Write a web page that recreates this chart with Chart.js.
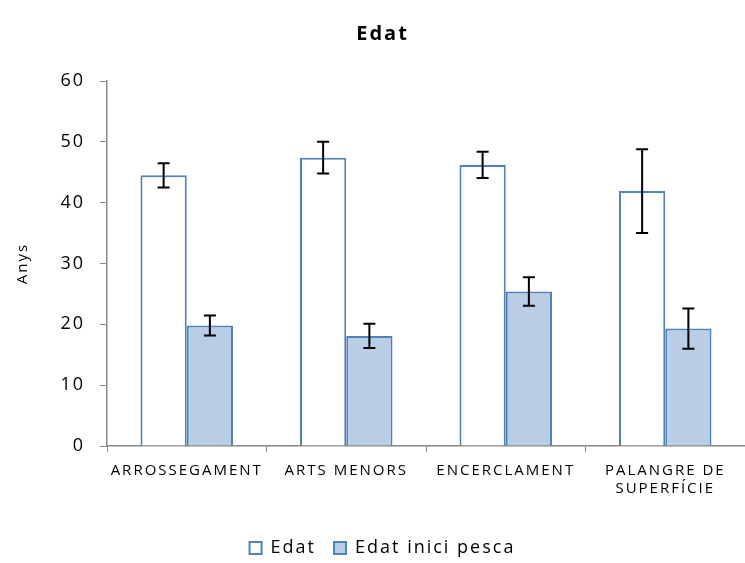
<!DOCTYPE html>
<html>
<head>
<meta charset="utf-8">
<script src="https://cdn.jsdelivr.net/npm/chart.js@4"></script>
<style>
  html, body { margin: 0; padding: 0; background: #fff; }
  #wrap { width: 745px; height: 563px; }
</style>
</head>
<body>
<div id="wrap"><canvas id="edatChart" width="745" height="563"></canvas></div>
<script>
// Dades
const categories = ["ARROSSEGAMENT", "ARTS MENORS", "ENCERCLAMENT", ["PALANGRE DE", "SUPERFÍCIE"]];
const edat = [44.5, 47.4, 46.2, 41.9];
const edatErr = [2.0, 2.6, 2.15, 6.9];
const edatInici = [19.8, 18.1, 25.4, 19.3];
const edatIniciErr = [1.65, 2.0, 2.35, 3.3];
const yTicks = [0, 10, 20, 30, 40, 50, 60];

const FONT = "'Open Sans', 'DejaVu Sans', sans-serif";

// text una mica espaiat, com a l'original
const spacing = {
  id: "spacing",
  beforeUpdate(chart) { chart.ctx.letterSpacing = "2px"; },
  beforeDraw(chart) { chart.ctx.letterSpacing = "2px"; },
};

// barres d'error dibuixades amb l'escala y
const errorBars = {
  id: "errorBars",
  afterDatasetsDraw(chart) {
    const ctx = chart.ctx;
    const y = chart.scales.y;
    const errs = [edatErr, edatIniciErr];
    ctx.save();
    ctx.strokeStyle = "#000";
    ctx.lineWidth = 2;
    chart.data.datasets.forEach((ds, di) => {
      const meta = chart.getDatasetMeta(di);
      meta.data.forEach((bar, i) => {
        const v = ds.data[i];
        const e = errs[di][i];
        const top = y.getPixelForValue(v + e);
        const bot = y.getPixelForValue(v - e);
        const x = bar.x;
        const cap = 6;
        ctx.beginPath();
        ctx.moveTo(x, top); ctx.lineTo(x, bot);
        ctx.moveTo(x - cap, top); ctx.lineTo(x + cap, top);
        ctx.moveTo(x - cap, bot); ctx.lineTo(x + cap, bot);
        ctx.stroke();
      });
    });
    ctx.restore();
  }
};

window.onload = () => {
  const ctx = document.getElementById("edatChart").getContext("2d");
  new Chart(ctx, {
    type: "bar",
    data: {
      labels: categories,
      datasets: [
        {
          label: "Edat",
          data: edat,
          backgroundColor: "#ffffff",
          borderColor: "#4f81bd",
          borderWidth: 2,
        },
        {
          label: "Edat inici pesca",
          data: edatInici,
          backgroundColor: "#b9cde5",
          borderColor: "#4f81bd",
          borderWidth: 2,
        },
      ],
    },
    options: {
      responsive: false,
      animation: false,
      categoryPercentage: 0.58,
      barPercentage: 1.0,
      layout: { padding: { left: 20, right: 0, top: 0, bottom: -4 } },
      plugins: {
        title: {
          display: true,
          text: "Edat",
          color: "#000",
          font: { family: FONT, size: 20, weight: "bold" },
          padding: { top: 22, bottom: 35 },
        },
        legend: {
          position: "bottom",
          labels: {
            color: "#000",
            boxWidth: 12,
            boxHeight: 12,
            padding: 18,
            font: { family: FONT, size: 18 },
          },
        },
        tooltip: { enabled: false },
      },
      scales: {
        x: {
          afterFit: (axis) => { axis.height = 75; },
          grid: {
            drawOnChartArea: false,
            drawTicks: true,
            tickLength: 6,
            color: "#888",
          },
          border: { color: "#888", width: 1.5 },
          ticks: {
            color: "#000",
            maxRotation: 0,
            autoSkip: false,
            padding: 10,
            font: { family: FONT, size: 15 },
          },
        },
        y: {
          min: 0,
          max: 60,
          afterFit: (axis) => { axis.width = 87; },
          afterBuildTicks: (axis) => {
            axis.ticks = yTicks.map((v) => ({ value: v }));
          },
          grid: {
            drawOnChartArea: false,
            drawTicks: true,
            tickLength: 7,
            color: "#888",
          },
          border: { color: "#888", width: 1.5 },
          title: {
            display: true,
            text: "Anys",
            color: "#000",
            font: { family: FONT, size: 15 },
            padding: { top: -6, bottom: 0 },
          },
          ticks: {
            color: "#000",
            padding: 15,
            font: { family: FONT, size: 18 },
          },
        },
      },
    },
    plugins: [spacing, errorBars],
  });
};
</script>
</body>
</html>
